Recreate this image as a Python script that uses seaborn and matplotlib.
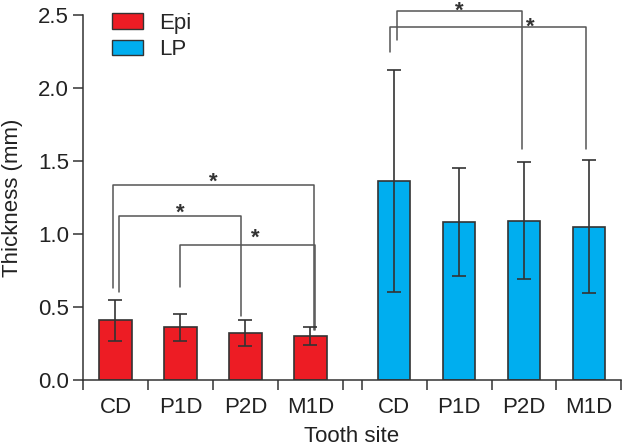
import matplotlib
matplotlib.use("Agg")
import matplotlib.pyplot as plt
from matplotlib.patches import Patch
import seaborn as sns
import pandas as pd

# data
sites = ["CD", "P1D", "P2D", "M1D"]
epi_mean = [0.41, 0.36, 0.32, 0.30]
epi_sd = [0.14, 0.095, 0.088, 0.06]
lp_mean = [1.36, 1.08, 1.09, 1.05]
lp_sd = [0.76, 0.37, 0.40, 0.455]

# significance brackets: (site_i, site_j, bar height, left leg end, right leg end)
epi_brackets = [(0, 3, 1.336, 0.63, 0.345), (0, 2, 1.125, 0.60, 0.44), (1, 3, 0.925, 0.64, 0.345)]
lp_brackets = [(0, 2, 2.525, 2.33, 1.58), (0, 3, 2.42, 2.245, 1.58)]

red = "#ED1C24"
blue = "#00AEEF"
dark = "#333333"
line_c = "#555555"

sns.set_style("ticks")
plt.rcParams["font.family"] = ["Liberation Sans", "DejaVu Sans"]

# layout: second group shifted right with a small gap
gap = 0.29
epi_pos = [i + 0.5 for i in range(4)]
lp_pos = [4 + gap + i + 0.5 for i in range(4)]

df = pd.DataFrame({
    "pos": epi_pos + lp_pos,
    "mean": epi_mean + lp_mean,
    "sd": epi_sd + lp_sd,
    "layer": ["Epi"] * 4 + ["LP"] * 4,
})

fig = plt.figure(figsize=(6.22, 4.47), dpi=100)
ax = fig.add_axes([0.1334, 0.15, 0.8646, 0.8165])

sns.barplot(data=df, x="pos", y="mean", hue="layer", native_scale=True, dodge=False,
            width=0.5, palette={"Epi": red, "LP": blue}, saturation=1, edgecolor=dark,
            linewidth=1.2, errorbar=None, legend=False, ax=ax)
ax.errorbar(df["pos"], df["mean"], yerr=df["sd"], fmt="none", ecolor=dark,
            elinewidth=1.2, capsize=5, capthick=1.2, zorder=5)

# brackets, star centre given in data units
px = 2.5 / (0.8165 * 447)  # data units per pixel on y

def bracket(x1, x2, y, yb1, yb2, sx, sy):
    ax.plot([x1, x1, x2, x2], [yb1, y, y, yb2], color=line_c, lw=1.1, clip_on=False, zorder=4)
    ax.text(sx, sy - 12.5 * px, "*", ha="center", va="baseline", fontsize=16, fontweight="bold",
            color=dark, clip_on=False)

epi_off = [(-0.04, 0.06, 1.401), (0.06, -0.06, 1.187), (0.0, 0.07, 1.021)]
star_x_epi = [None, None, 2.66]
for (i, j, y, b1, b2), (o1, o2, sy), sxo in zip(epi_brackets, epi_off, star_x_epi):
    x1, x2 = epi_pos[i] + o1, epi_pos[j] + o2
    sx = (x1 + x2) / 2 if sxo is None else sxo
    bracket(x1, x2, y, b1, b2, sx, sy)

lp_off = [(0.05, -0.03, 2.572), (-0.06, -0.05, 2.462)]
star_x_lp = [None, lp_pos[2] + 0.09]
for (i, j, y, b1, b2), (o1, o2, sy), sxo in zip(lp_brackets, lp_off, star_x_lp):
    x1, x2 = lp_pos[i] + o1, lp_pos[j] + o2
    sx = (x1 + x2) / 2 if sxo is None else sxo
    bracket(x1, x2, y, b1, b2, sx, sy)

# axes
ax.set_xlim(0, 8 + gap - 0.01)
ax.set_ylim(0, 2.5)
ax.set_yticks([0, 0.5, 1.0, 1.5, 2.0, 2.5])
ax.set_yticklabels(["0.0", "0.5", "1.0", "1.5", "2.0", "2.5"])
bounds = [0, 1, 2, 3, 4, 4 + gap, 5 + gap, 6 + gap, 7 + gap, 8 + gap - 0.01]
ax.set_xticks(bounds)
ax.set_xticklabels([])
ax.set_xticks(epi_pos + lp_pos, minor=True)
ax.set_xticklabels(sites + sites, minor=True)
ax.tick_params(axis="x", which="major", length=7, width=1.1, color=dark)
ax.tick_params(axis="x", which="minor", length=0, pad=12, labelsize=16, labelcolor="#222222")
ax.tick_params(axis="y", length=7, width=1.1, color=dark, labelsize=16, labelcolor="#222222", pad=3)
sns.despine(ax=ax)
for s in ["left", "bottom"]:
    ax.spines[s].set_linewidth(1.1)
    ax.spines[s].set_color(dark)

ax.set_xlabel("Tooth site", fontsize=16, color="#222222", labelpad=6)
ax.set_ylabel("Thickness (mm)", fontsize=16, color="#222222", labelpad=11)

handles = [Patch(facecolor=red, edgecolor=dark, lw=1.0, label="Epi"),
           Patch(facecolor=blue, edgecolor=dark, lw=1.0, label="LP")]
ax.legend(handles=handles, loc="upper left", bbox_to_anchor=(0.038, 1.03), frameon=False,
          fontsize=16, handlelength=1.4, handleheight=0.7, handletextpad=0.7,
          labelspacing=0.25, borderaxespad=0)

fig.savefig("out.png", dpi=100)
